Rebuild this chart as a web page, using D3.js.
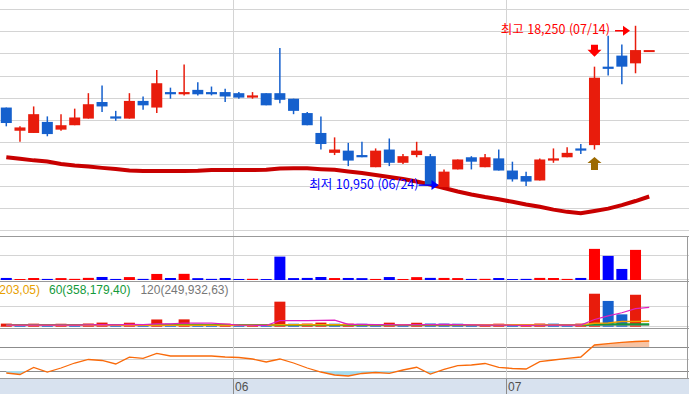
<!DOCTYPE html>
<html lang="ko">
<head>
<meta charset="UTF-8">
<title>일봉 차트</title>
<script src="https://d3js.org/d3.v7.min.js"></script>
<style>
  body { margin: 0; background: #fff; }
  svg { display: block; }
  .kr { font-family: "Noto Sans CJK KR", sans-serif; }
  .num { font-family: "Liberation Sans", "DejaVu Sans", sans-serif; }
</style>
</head>
<body>
<svg width="689" height="394"></svg>
<script>
// trading days (2022)
const dates = [
  "05/09","05/10","05/11","05/12","05/13","05/16","05/17","05/18","05/19","05/20",
  "05/23","05/24","05/25","05/26","05/27","05/30","05/31",
  "06/02","06/03","06/07","06/08","06/09","06/10","06/13","06/14","06/15","06/16",
  "06/17","06/20","06/21","06/22","06/23","06/24","06/27","06/28","06/29","06/30",
  "07/01","07/04","07/05","07/06","07/07","07/08","07/11","07/12","07/13","07/14","07/15"
];
const opens  = [14550,13500,13400,13900,13550,13750,14050,14800,14150,14050,14850,14550,15250,15150,15350,15250,15250,
                15200,15000,15200,15200,14950,14300,13400,12500,12600,12400,11850,12650,12050,12400,12350,10950,11750,12300,11850,12250,
                11700,11450,11250,12150,12300,12700,12850,16400,16900,16550,17150];
const highs  = [14550,13700,14600,14150,14250,14500,15200,15550,14400,15200,15050,16250,15450,16500,15700,15500,15400,
                15250,15250,15200,17250,14950,14350,14150,13200,12950,13000,12700,13150,12450,13000,12450,11750,12200,12350,12450,12650,
                12100,11650,12250,12700,12750,12900,16400,17800,17400,18250,17150];
const lows   = [13700,13000,13400,13250,13500,13750,14050,14350,13950,14050,14450,14300,14950,15100,15100,15100,14800,
                14950,14950,14650,14750,14250,13750,12650,12400,11900,12300,11850,11900,12000,12300,11000,10950,11750,11750,11850,11700,
                11200,11000,11250,12050,12300,12450,12650,16000,15600,16100,17150];
const closes = [13850,13650,14250,13350,13750,14100,14700,14600,14050,14850,14650,15650,15150,15250,15150,15150,15050,
                15000,15100,14650,14900,14400,13750,12900,12650,12150,12300,12600,12050,12350,12600,11050,11650,12200,12100,12300,11700,
                11300,11200,12200,12250,12500,12600,15900,16300,16400,17150,17150];
// price moving average
const priceMa = [12300,12230,12160,12110,12000,11930,11880,11820,11770,11705,11680,11680,11680,11680,11690,11725,11725,
                 11725,11725,11740,11795,11800,11800,11760,11730,11660,11590,11500,11410,11320,11205,11070,10910,10750,10615,10500,10400,
                 10285,10160,10060,9930,9830,9765,9865,9975,10135,10320,10525];
// volume (shares)
const volumes = [305000,148000,296000,162000,284000,171000,318000,452000,158000,436000,166000,905000,298000,921000,276000,169000,301000,
                 154000,178000,143000,3495000,287000,310000,448000,292000,303000,281000,159000,441000,152000,429000,316000,308000,289000,161000,174000,295000,
                 147000,168000,312000,299000,165000,306000,4650000,3600000,1650000,4500000,0];
const volMa5   = [240000,240000,240000,240000,240000,240000,270000,300000,270000,330000,300000,420000,420000,540000,510000,510000,390000,
                  240000,210000,180000,870000,870000,870000,930000,960000,330000,330000,300000,300000,270000,300000,300000,330000,300000,270000,240000,240000,
                  210000,180000,210000,240000,240000,240000,1050000,1575000,2025000,2625000,2805000];
const volMa20  = [225000,225000,225000,225000,225000,225000,225000,225000,225000,225000,225000,225000,225000,225000,225000,225000,225000,
                  225000,225000,225000,300000,300000,300000,300000,300000,300000,300000,300000,300000,300000,300000,300000,300000,300000,300000,300000,300000,
                  300000,300000,300000,240000,240000,240000,510000,540000,750000,750000,780000];
const volMa60  = [255000,255000,255000,255000,255000,255000,255000,255000,255000,255000,255000,255000,255000,255000,255000,255000,255000,
                  255000,255000,255000,255000,255000,255000,255000,255000,255000,255000,255000,255000,255000,255000,255000,255000,255000,255000,255000,255000,
                  255000,255000,255000,255000,255000,255000,330000,345000,350000,356000,358179];
const volMa120 = [205000,205000,205000,205000,205000,205000,205000,205000,205000,205000,205000,205000,205000,205000,205000,205000,205000,
                  205000,205000,205000,205000,205000,205000,205000,205000,205000,205000,205000,205000,205000,205000,205000,205000,205000,205000,205000,205000,
                  205000,205000,205000,205000,205000,205000,225000,235000,242000,248000,249933];
// oscillator (0-100)
const osc = [15,11.3,28.8,17.5,27.5,40,48.8,46.3,37.5,54.5,51.8,63.8,57.5,57.5,57.5,57.5,55,
             53.8,50,42.5,50,40,27.5,17.5,10,7.5,13.8,16.3,14.3,22.5,29.3,12.5,23.8,33.3,35,38.8,29.3,
             26.3,25,43.3,47.5,51.8,55,85,88.3,91.8,93.8,95];

const priceGrid = [9000,10000,11000,12000,13000,14000,15000,16000,17000,18000,19000];
const monthStarts = ["06/02","07/01"];
const monthLabels = ["06","07"];
const legendItems = [["20(331,203,05)","#e8a000"],["60(358,179,40)","#139a3a"],["120(249,932,63)","#777777"]];
const oscLevels = [20,50,80];

const W = 689;
const RED = "#e81c0c", BLUE = "#1560cd";
const svg = d3.select("svg");

const x = d3.scalePoint().domain(dates).range([6.3, 649.2]);
const y = d3.scaleLinear().domain([11000, 18000]).range([186, 31.3]);
const yVol = d3.scaleLinear().domain([0, 6500000]).range([280, 236.5]);
const yVol2 = d3.scaleLinear().domain([0, 6500000]).range([326.7, 282]);
const yOsc = d3.scaleLinear().domain([0, 100]).range([379, 339]);
const bodyW = 11;

// ----- grid -----
const grid = svg.append("g").attr("shape-rendering", "crispEdges");
grid.selectAll(".pg").data(priceGrid).enter().append("line")
  .attr("x1", 0).attr("x2", W).attr("y1", d => Math.round(y(d)) + 0.5).attr("y2", d => Math.round(y(d)) + 0.5)
  .attr("stroke", "#d4d4d4");
grid.append("line").attr("x1", 0).attr("x2", W).attr("y1", 255.5).attr("y2", 255.5).attr("stroke", "#d4d4d4");
grid.append("line").attr("x1", 0).attr("x2", W).attr("y1", 279.5).attr("y2", 279.5).attr("stroke", "#d4d4d4");
grid.append("line").attr("x1", 0).attr("x2", W).attr("y1", 306.5).attr("y2", 306.5).attr("stroke", "#d4d4d4");
grid.append("line").attr("x1", 0).attr("x2", W).attr("y1", 326.5).attr("y2", 326.5).attr("stroke", "#d4d4d4");
grid.selectAll(".ol").data(oscLevels).enter().append("line")
  .attr("x1", 0).attr("x2", W).attr("y1", d => Math.round(yOsc(d)) + 0.5).attr("y2", d => Math.round(yOsc(d)) + 0.5)
  .attr("stroke", d => d === 50 ? "#d4d4d4" : "#8c8c8c");
grid.selectAll(".mv").data(monthStarts).enter().append("line")
  .attr("x1", d => Math.round(x(d) - 6) + 0.5).attr("x2", d => Math.round(x(d) - 6) + 0.5)
  .attr("y1", 0).attr("y2", 379).attr("stroke", "#d4d4d4");

// ----- price MA -----
svg.append("path")
  .datum(priceMa)
  .attr("fill", "none").attr("stroke", "#c80000").attr("stroke-width", 4)
  .attr("d", d3.line().x((d, i) => x(dates[i])).y(d => y(d)));

// ----- candles -----
const candles = svg.append("g").selectAll("g").data(dates).enter().append("g");
const col = i => closes[i] >= opens[i] ? RED : BLUE;
candles.append("line")
  .attr("x1", (d, i) => x(d)).attr("x2", (d, i) => x(d))
  .attr("y1", (d, i) => y(highs[i])).attr("y2", (d, i) => y(lows[i]))
  .attr("stroke", (d, i) => col(i)).attr("stroke-width", 1.5);
candles.append("rect")
  .attr("x", d => x(d) - bodyW / 2).attr("width", bodyW)
  .attr("y", (d, i) => y(Math.max(opens[i], closes[i])))
  .attr("height", (d, i) => Math.max(2, Math.abs(y(opens[i]) - y(closes[i]))))
  .attr("fill", (d, i) => col(i));

// ----- annotations -----
const hiI = 46, loI = 32;
const hx = x(dates[hiI]) - bodyW / 2, hy = y(highs[hiI]) + 5;
svg.append("text").attr("class", "kr").attr("x", hx - 20).attr("y", hy + 3.5)
  .attr("text-anchor", "end").attr("font-size", 12.5).attr("fill", "#ff0000")
  .text("최고 18,250 (07/14)");
svg.append("line").attr("x1", hx - 15).attr("x2", hx - 6).attr("y1", hy).attr("y2", hy)
  .attr("stroke", "#ff0000").attr("stroke-width", 1.5);
svg.append("path").attr("d", `M${hx - 7},${hy - 5}L${hx},${hy}L${hx - 7},${hy + 5}Z`).attr("fill", "#ff0000");

const lx = x(dates[loI]) - bodyW / 2, ly = y(lows[loI]) - 2;
svg.append("text").attr("class", "kr").attr("x", lx - 20).attr("y", ly + 4)
  .attr("text-anchor", "end").attr("font-size", 12.5).attr("fill", "#0000ff")
  .text("최저 10,950 (06/24)");
svg.append("line").attr("x1", lx - 20).attr("x2", lx - 6).attr("y1", ly).attr("y2", ly)
  .attr("stroke", "#0000ff").attr("stroke-width", 1.5);
svg.append("path").attr("d", `M${lx - 7},${ly - 5}L${lx},${ly}L${lx - 7},${ly + 5}Z`).attr("fill", "#0000ff");

// signal arrows on the limit-up day
const sx = x(dates[43]);
const dTop = y(highs[43]) - 22;
svg.append("path").attr("fill", "#ff0000")
  .attr("d", `M${sx - 3.5},${dTop}H${sx + 3.5}V${dTop + 5}H${sx + 7}L${sx},${dTop + 12}L${sx - 7},${dTop + 5}H${sx - 3.5}Z`);
const uTop = y(lows[43]) + 7.5;
svg.append("path").attr("fill", "#9c6a00")
  .attr("d", `M${sx},${uTop}L${sx + 7},${uTop + 6}H${sx + 3.5}V${uTop + 13}H${sx - 3.5}V${uTop + 6}H${sx - 7}Z`);

// ----- volume panel -----
svg.append("g").selectAll("rect").data(dates).enter().append("rect")
  .attr("x", d => x(d) - 5.5).attr("width", 11)
  .attr("y", (d, i) => yVol(volumes[i])).attr("height", (d, i) => yVol(0) - yVol(volumes[i]))
  .attr("fill", (d, i) => closes[i] >= opens[i] ? "#ff0000" : "#0000ff");

// ----- volume panel 2 (coloured by change vs previous day) -----
svg.append("g").selectAll("rect").data(dates).enter().append("rect")
  .attr("x", d => x(d) - 5.5).attr("width", 11)
  .attr("y", (d, i) => yVol2(volumes[i]) - 1).attr("height", (d, i) => yVol2(0) - yVol2(volumes[i]) + 1)
  .attr("fill", (d, i) => (i === 0 || volumes[i] >= volumes[i - 1]) ? RED : BLUE)
  .attr("opacity", (d, i) => volumes[i] > 0 ? 1 : 0);
const vline = d3.line().x((d, i) => x(dates[i])).y(d => yVol2(d));
[[volMa120, "#8a8a8a", 1.5], [volMa60, "#139a3a", 2], [volMa20, "#f0a000", 1.5], [volMa5, "#e020c0", 1.2]]
  .forEach(([arr, c, w]) => {
    svg.append("path").datum(arr).attr("fill", "none").attr("stroke", c).attr("stroke-width", w).attr("d", vline);
  });
let lgX = 40;
legendItems.forEach(([t, c], k) => {
  const el = svg.append("text").attr("class", "num").attr("y", 294).attr("font-size", 12).attr("fill", c).text(t);
  if (k === 0) {
    el.attr("text-anchor", "end").attr("x", lgX);
    lgX += 9;
  } else {
    el.attr("x", lgX);
    lgX += el.node().getComputedTextLength() + 10;
  }
});

// ----- oscillator panel -----
const oscArea = d3.area().x((d, i) => x(dates[i]));
svg.append("clipPath").attr("id", "above").append("rect")
  .attr("x", 0).attr("y", 330).attr("width", W).attr("height", yOsc(80) - 330);
svg.append("clipPath").attr("id", "below").append("rect")
  .attr("x", 0).attr("y", yOsc(20)).attr("width", W).attr("height", 379 - yOsc(20));
svg.append("path").datum(osc).attr("clip-path", "url(#above)").attr("fill", "#f7c3a3")
  .attr("d", oscArea.y0(yOsc(80)).y1(d => yOsc(d)));
svg.append("path").datum(osc).attr("clip-path", "url(#below)").attr("fill", "#a8dcee")
  .attr("d", oscArea.y0(yOsc(20)).y1(d => yOsc(d)));
svg.append("path").datum(osc).attr("fill", "none").attr("stroke", "#f96a0a").attr("stroke-width", 1.3)
  .attr("d", d3.line().x((d, i) => x(dates[i])).y(d => yOsc(d)));

// ----- panel borders -----
const borders = svg.append("g").attr("shape-rendering", "crispEdges");
[236.5, 281.5, 328.5, 378.5].forEach(v => {
  borders.append("line").attr("x1", 0).attr("x2", W).attr("y1", v).attr("y2", v).attr("stroke", "#9a9a9a");
});
borders.append("line").attr("x1", 687.5).attr("x2", 687.5).attr("y1", 236).attr("y2", 379).attr("stroke", "#9a9a9a");

// ----- time axis -----
svg.append("rect").attr("x", 0).attr("y", 379).attr("width", W).attr("height", 15).attr("fill", "#d8e2ef");
const ax = svg.append("g");
ax.selectAll("line").data(monthStarts).enter().append("line")
  .attr("x1", d => Math.round(x(d) - 6) + 0.5).attr("x2", d => Math.round(x(d) - 6) + 0.5)
  .attr("y1", 379).attr("y2", 394).attr("stroke", "#8c8c8c");
ax.selectAll("text").data(monthStarts).enter().append("text")
  .attr("class", "num").attr("x", d => Math.round(x(d) - 6) + 2).attr("y", 391)
  .attr("font-size", 12).attr("fill", "#505050")
  .text((d, i) => monthLabels[i]);
</script>
</body>
</html>
